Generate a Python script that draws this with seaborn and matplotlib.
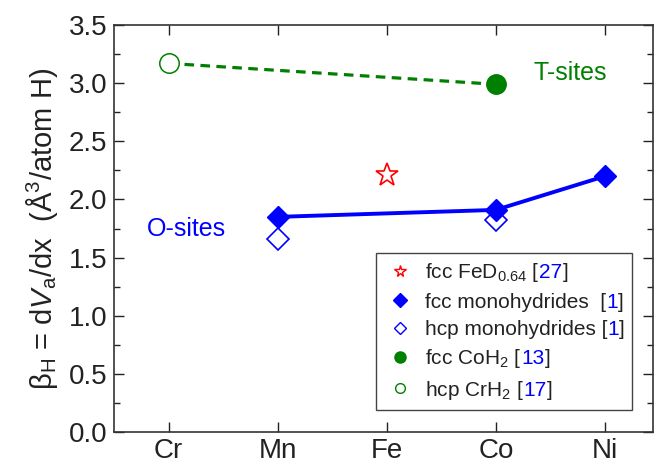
import numpy as np
import pandas as pd
import matplotlib
matplotlib.use("Agg")
import matplotlib.pyplot as plt
import seaborn as sns
from matplotlib.lines import Line2D
from matplotlib.patches import Rectangle
from matplotlib.ticker import MultipleLocator
from matplotlib.transforms import IdentityTransform

# data
elements = ["Cr", "Mn", "Fe", "Co", "Ni"]
fcc_mono_el = ["Mn", "Co", "Ni"]
fcc_mono_val = [1.85, 1.91, 2.20]
hcp_mono_el = ["Mn", "Co"]
hcp_mono_val = [1.66, 1.82]
fed_el = ["Fe"]
fed_val = [2.21]
coh2_el = ["Co"]
coh2_val = [2.99]
crh2_el = ["Cr"]
crh2_val = [3.17]
tsite_el = ["Cr", "Co"]
tsite_val = [3.17, 2.99]

# legend labels: (text before ref, ref number, text after)
leg_parts = [
    ("fcc FeD$_{0.64}$ [", "27", "]"),
    ("fcc monohydrides  [", "1", "]"),
    ("hcp monohydrides [", "1", "]"),
    ("fcc CoH$_2$ [", "13", "]"),
    ("hcp CrH$_2$ [", "17", "]"),
]

def pos(names):
    return pd.Categorical(names, categories=elements).codes

sns.set_style("ticks")
plt.rcParams["font.family"] = ["Liberation Sans", "DejaVu Sans"]
plt.rcParams["mathtext.fontset"] = "custom"
plt.rcParams["mathtext.rm"] = "Liberation Sans"
plt.rcParams["mathtext.it"] = "Liberation Sans:italic"
plt.rcParams["mathtext.bf"] = "Liberation Sans:bold"
plt.rcParams["xtick.direction"] = "in"
plt.rcParams["ytick.direction"] = "in"
plt.rcParams["xtick.top"] = True
plt.rcParams["ytick.right"] = True

BLUE = "#0000ff"
GREEN = "#008000"
RED = "#ff0000"
TXT = "#222222"
LFS = 15

fig = plt.figure(figsize=(6.6, 4.66), dpi=100)
ax = fig.add_axes([114 / 660, 1 - 432 / 466, 539 / 660, 407 / 466])

# T-sites dashed line
sns.lineplot(x=pos(tsite_el), y=tsite_val, ax=ax, color=GREEN, lw=2.3,
             linestyle=(0, (3, 2)), legend=False, zorder=2)
# O-sites line
sns.lineplot(x=pos(fcc_mono_el), y=fcc_mono_val, ax=ax, color=BLUE, lw=2.8,
             legend=False, zorder=2)

ax.plot(pos(fcc_mono_el), fcc_mono_val, "D", ms=11, color=BLUE, mec=BLUE, zorder=4)
ax.plot(pos(hcp_mono_el), hcp_mono_val, "D", ms=11, mfc="white", mec=BLUE, mew=1.2, zorder=3)
ax.plot(pos(fed_el), fed_val, "*", ms=17, mfc="white", mec=RED, mew=1.2, zorder=3)
ax.plot(pos(coh2_el), coh2_val, "o", ms=14, color=GREEN, zorder=4)
ax.plot(pos(crh2_el), crh2_val, "o", ms=14, mfc="white", mec=GREEN, mew=1.1, zorder=4)

ax.text(3.68, 3.09, "T-sites", color=GREEN, fontsize=18, ha="center", va="center")
ax.text(0.16, 1.75, "O-sites", color=BLUE, fontsize=18, ha="center", va="center")

ax.set_xlim(-0.5, 4.44)
ax.set_ylim(0, 3.5)
ax.set_xticks(range(len(elements)))
ax.set_xticklabels(elements)
ax.yaxis.set_major_locator(MultipleLocator(0.5))
ax.yaxis.set_minor_locator(MultipleLocator(0.25))
ax.tick_params(which="major", length=7, width=1, labelsize=20, colors=TXT, pad=4)
ax.tick_params(which="minor", length=4, width=1, colors=TXT)
ax.tick_params(axis="y", pad=5)
for s in ax.spines.values():
    s.set_visible(True)
    s.set_linewidth(1.2)
    s.set_color("#333333")

ax.set_ylabel(r"β$_{\rm H}$ = d$V_{\rm a}$/dx  (Å$^{3}$/atom H)", fontsize=21,
              color=TXT, labelpad=6)

handles = [
    Line2D([], [], ls="", marker="*", ms=8.5, mfc="white", mec=RED, mew=1),
    Line2D([], [], ls="", marker="D", ms=7, color=BLUE),
    Line2D([], [], ls="", marker="D", ms=6.5, mfc="white", mec=BLUE, mew=1),
    Line2D([], [], ls="", marker="o", ms=8, color=GREEN),
    Line2D([], [], ls="", marker="o", ms=7, mfc="white", mec=GREEN, mew=1),
]
labels = [a + b + c for a, b, c in leg_parts]
leg = ax.legend(handles, labels, loc="upper left", bbox_to_anchor=(0.486, 0.44),
                fontsize=LFS, frameon=True, fancybox=False, framealpha=1,
                edgecolor="#444444", handletextpad=0.45, labelspacing=0.4,
                borderpad=0.4, handlelength=1.5, borderaxespad=0)
leg.set_zorder(6)

# measure the legend, then redraw labels in pieces so the refs can be blue
fig.canvas.draw()
r = fig.canvas.get_renderer()
fb = leg.get_frame().get_window_extent(r)
leg.get_frame().set_visible(False)
right = fb.x0
for t, (a, b, c) in zip(leg.get_texts(), leg_parts):
    x0, y0 = t.get_transform().transform((0, 0))
    t.set_text(a)
    t.set_color(TXT)
    x = t.get_window_extent(r).x1
    for piece, col in ((b, BLUE), (c, TXT)):
        tt = fig.text(x, y0, piece, color=col, fontsize=LFS, va="baseline",
                      ha="left", transform=IdentityTransform())
        x = tt.get_window_extent(r).x1
    right = max(right, x)
box = Rectangle((fb.x0, fb.y0), right + 7 - fb.x0, fb.height,
                transform=IdentityTransform(), facecolor="white",
                edgecolor="#444444", lw=1.0, zorder=5, clip_on=False)
ax.add_artist(box)

fig.savefig("out.png", dpi=100)
